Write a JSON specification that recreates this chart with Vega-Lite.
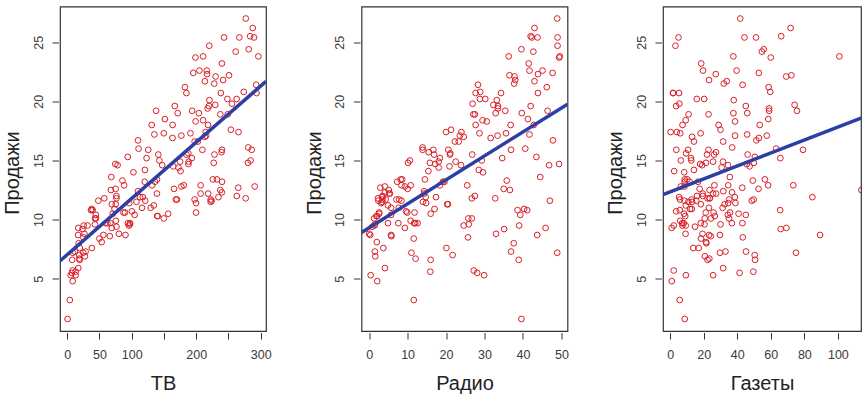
{
"$schema": "https://vega.github.io/schema/vega-lite/v6.json",
"padding": {"left": 1, "top": 5.5, "right": 0, "bottom": 0},
"background": "white",
"config": {
  "view": {"stroke": "#333333", "strokeWidth": 1.2},
  "axis": {"grid": false, "domain": false, "tickColor": "#333333", "tickSize": 6.5, "offset": 1.5, "tickWidth": 1,
    "labelOverlap": false, "labelFlush": false,
    "labelFont": "Liberation Sans", "labelFontSize": 12.5, "labelColor": "#3a3a3a",
    "titleFont": "Liberation Sans", "titleFontSize": 20, "titleFontWeight": "normal", "titleColor": "#222222"},
  "axisX": {"labelPadding": 9, "titleY": 51, "titleBaseline": "middle"},
  "axisY": {"labelAngle": -90, "labelAlign": "center", "labelBaseline": "middle", "labelPadding": 14,
    "titleX": -46, "titleY": 166, "titleAngle": -90, "titleAlign": "center", "titleBaseline": "middle"}
},
"datasets": {"adv": [
{"TV":230.1,"radio":37.8,"newspaper":69.2,"sales":22.1},
{"TV":44.5,"radio":39.3,"newspaper":45.1,"sales":10.4},
{"TV":17.2,"radio":45.9,"newspaper":69.3,"sales":9.3},
{"TV":151.5,"radio":41.3,"newspaper":58.5,"sales":18.5},
{"TV":180.8,"radio":10.8,"newspaper":58.4,"sales":12.9},
{"TV":8.7,"radio":48.9,"newspaper":75,"sales":7.2},
{"TV":57.5,"radio":32.8,"newspaper":23.5,"sales":11.8},
{"TV":120.2,"radio":19.6,"newspaper":11.6,"sales":13.2},
{"TV":8.6,"radio":2.1,"newspaper":1,"sales":4.8},
{"TV":199.8,"radio":2.6,"newspaper":21.2,"sales":10.6},
{"TV":66.1,"radio":5.8,"newspaper":24.2,"sales":8.6},
{"TV":214.7,"radio":24,"newspaper":4,"sales":17.4},
{"TV":23.8,"radio":35.1,"newspaper":65.9,"sales":9.2},
{"TV":97.5,"radio":7.6,"newspaper":7.2,"sales":9.7},
{"TV":204.1,"radio":32.9,"newspaper":46,"sales":19},
{"TV":195.4,"radio":47.7,"newspaper":52.9,"sales":22.4},
{"TV":67.8,"radio":36.6,"newspaper":114,"sales":12.5},
{"TV":281.4,"radio":39.6,"newspaper":55.8,"sales":24.4},
{"TV":69.2,"radio":20.5,"newspaper":18.3,"sales":11.3},
{"TV":147.3,"radio":23.9,"newspaper":19.1,"sales":14.6},
{"TV":218.4,"radio":27.7,"newspaper":53.4,"sales":18},
{"TV":237.4,"radio":5.1,"newspaper":23.5,"sales":12.5},
{"TV":13.2,"radio":15.9,"newspaper":49.6,"sales":5.6},
{"TV":228.3,"radio":16.9,"newspaper":26.2,"sales":15.5},
{"TV":62.3,"radio":12.6,"newspaper":18.3,"sales":9.7},
{"TV":262.9,"radio":3.5,"newspaper":19.5,"sales":12},
{"TV":142.9,"radio":29.3,"newspaper":12.6,"sales":15},
{"TV":240.1,"radio":16.7,"newspaper":22.9,"sales":15.9},
{"TV":248.8,"radio":27.1,"newspaper":22.9,"sales":18.9},
{"TV":70.6,"radio":16,"newspaper":40.8,"sales":10.5},
{"TV":292.9,"radio":28.3,"newspaper":43.2,"sales":21.4},
{"TV":112.9,"radio":17.4,"newspaper":38.6,"sales":11.9},
{"TV":97.2,"radio":1.5,"newspaper":30,"sales":9.6},
{"TV":265.6,"radio":20,"newspaper":0.3,"sales":17.4},
{"TV":95.7,"radio":1.4,"newspaper":7.4,"sales":9.5},
{"TV":290.7,"radio":4.1,"newspaper":8.5,"sales":12.8},
{"TV":266.9,"radio":43.8,"newspaper":5,"sales":25.4},
{"TV":74.7,"radio":49.4,"newspaper":45.7,"sales":14.7},
{"TV":43.1,"radio":26.7,"newspaper":35.1,"sales":10.1},
{"TV":228,"radio":37.7,"newspaper":32,"sales":21.5},
{"TV":202.5,"radio":22.3,"newspaper":31.6,"sales":16.6},
{"TV":177,"radio":33.4,"newspaper":38.7,"sales":17.1},
{"TV":293.6,"radio":27.7,"newspaper":1.8,"sales":20.7},
{"TV":206.9,"radio":8.4,"newspaper":26.4,"sales":12.9},
{"TV":25.1,"radio":25.7,"newspaper":43.3,"sales":8.5},
{"TV":175.1,"radio":22.5,"newspaper":31.5,"sales":14.9},
{"TV":89.7,"radio":9.9,"newspaper":35.7,"sales":10.6},
{"TV":239.9,"radio":41.5,"newspaper":18.5,"sales":23.2},
{"TV":227.2,"radio":15.8,"newspaper":49.9,"sales":14.8},
{"TV":66.9,"radio":11.7,"newspaper":36.8,"sales":9.7},
{"TV":199.8,"radio":3.1,"newspaper":34.6,"sales":11.4},
{"TV":100.4,"radio":9.6,"newspaper":3.6,"sales":10.7},
{"TV":216.4,"radio":41.7,"newspaper":39.6,"sales":22.6},
{"TV":182.6,"radio":46.2,"newspaper":58.7,"sales":21.2},
{"TV":262.7,"radio":28.8,"newspaper":15.9,"sales":20.2},
{"TV":198.9,"radio":49.4,"newspaper":60,"sales":23.7},
{"TV":7.3,"radio":28.1,"newspaper":41.4,"sales":5.5},
{"TV":136.2,"radio":19.2,"newspaper":16.6,"sales":13.2},
{"TV":210.8,"radio":49.6,"newspaper":37.7,"sales":23.8},
{"TV":210.7,"radio":29.5,"newspaper":9.3,"sales":18.4},
{"TV":53.5,"radio":2,"newspaper":21.4,"sales":8.1},
{"TV":261.3,"radio":42.7,"newspaper":54.7,"sales":24.2},
{"TV":239.3,"radio":15.5,"newspaper":27.3,"sales":15.7},
{"TV":102.7,"radio":29.6,"newspaper":8.4,"sales":14},
{"TV":131.1,"radio":42.8,"newspaper":28.9,"sales":18},
{"TV":69,"radio":9.3,"newspaper":0.9,"sales":9.3},
{"TV":31.5,"radio":24.6,"newspaper":2.2,"sales":9.5},
{"TV":139.3,"radio":14.5,"newspaper":10.2,"sales":13.4},
{"TV":237.4,"radio":27.5,"newspaper":11,"sales":18.9},
{"TV":216.8,"radio":43.9,"newspaper":27.2,"sales":22.3},
{"TV":199.1,"radio":30.6,"newspaper":38.7,"sales":18.3},
{"TV":109.8,"radio":14.3,"newspaper":31.7,"sales":12.4},
{"TV":26.8,"radio":33,"newspaper":19.3,"sales":8.8},
{"TV":129.4,"radio":5.7,"newspaper":31.3,"sales":11},
{"TV":213.4,"radio":24.6,"newspaper":13.1,"sales":17},
{"TV":16.9,"radio":43.7,"newspaper":89.4,"sales":8.7},
{"TV":27.5,"radio":1.6,"newspaper":20.7,"sales":6.9},
{"TV":120.5,"radio":28.5,"newspaper":14.2,"sales":14.2},
{"TV":5.4,"radio":29.9,"newspaper":9.4,"sales":5.3},
{"TV":116,"radio":7.7,"newspaper":23.1,"sales":11},
{"TV":76.4,"radio":26.7,"newspaper":22.3,"sales":11.8},
{"TV":239.8,"radio":4.1,"newspaper":36.9,"sales":12.3},
{"TV":75.3,"radio":20.3,"newspaper":32.5,"sales":11.3},
{"TV":68.4,"radio":44.5,"newspaper":35.6,"sales":13.6},
{"TV":213.5,"radio":43,"newspaper":33.8,"sales":21.7},
{"TV":193.2,"radio":18.4,"newspaper":65.7,"sales":15.2},
{"TV":76.3,"radio":27.5,"newspaper":16,"sales":12},
{"TV":110.7,"radio":40.6,"newspaper":63.2,"sales":16},
{"TV":88.3,"radio":25.5,"newspaper":73.4,"sales":12.9},
{"TV":109.8,"radio":47.8,"newspaper":51.4,"sales":16.7},
{"TV":134.3,"radio":4.9,"newspaper":9.3,"sales":11.2},
{"TV":28.6,"radio":1.5,"newspaper":33,"sales":7.3},
{"TV":217.7,"radio":33.5,"newspaper":59,"sales":19.4},
{"TV":250.9,"radio":36.5,"newspaper":72.3,"sales":22.2},
{"TV":107.4,"radio":14,"newspaper":10.9,"sales":11.5},
{"TV":163.3,"radio":31.6,"newspaper":52.9,"sales":16.9},
{"TV":197.6,"radio":3.5,"newspaper":5.9,"sales":11.7},
{"TV":184.9,"radio":21,"newspaper":22,"sales":15.5},
{"TV":289.7,"radio":42.3,"newspaper":51.2,"sales":25.4},
{"TV":135.2,"radio":41.7,"newspaper":45.9,"sales":17.2},
{"TV":222.4,"radio":4.3,"newspaper":49.8,"sales":11.7},
{"TV":296.4,"radio":36.3,"newspaper":100.9,"sales":23.8},
{"TV":280.2,"radio":10.1,"newspaper":21.4,"sales":14.8},
{"TV":187.9,"radio":17.2,"newspaper":17.9,"sales":14.7},
{"TV":238.2,"radio":34.3,"newspaper":5.3,"sales":20.7},
{"TV":137.9,"radio":46.4,"newspaper":59,"sales":19.2},
{"TV":25,"radio":11,"newspaper":29.7,"sales":7.2},
{"TV":90.4,"radio":0.3,"newspaper":23.2,"sales":8.7},
{"TV":13.1,"radio":0.4,"newspaper":25.6,"sales":5.3},
{"TV":255.4,"radio":26.9,"newspaper":5.5,"sales":19.8},
{"TV":225.8,"radio":8.2,"newspaper":56.5,"sales":13.4},
{"TV":241.7,"radio":38,"newspaper":23.2,"sales":21.8},
{"TV":175.7,"radio":15.4,"newspaper":2.4,"sales":14.1},
{"TV":209.6,"radio":20.6,"newspaper":10.7,"sales":15.9},
{"TV":78.2,"radio":46.8,"newspaper":34.5,"sales":14.6},
{"TV":75.1,"radio":35,"newspaper":52.7,"sales":12.6},
{"TV":139.2,"radio":14.3,"newspaper":25.6,"sales":12.2},
{"TV":76.4,"radio":0.8,"newspaper":14.8,"sales":9.4},
{"TV":125.7,"radio":36.9,"newspaper":79.2,"sales":15.9},
{"TV":19.4,"radio":16,"newspaper":22.3,"sales":6.6},
{"TV":141.3,"radio":26.8,"newspaper":46.2,"sales":15.5},
{"TV":18.8,"radio":21.7,"newspaper":50.4,"sales":7},
{"TV":224,"radio":2.4,"newspaper":15.6,"sales":11.6},
{"TV":123.1,"radio":34.6,"newspaper":12.4,"sales":15.2},
{"TV":229.5,"radio":32.3,"newspaper":74.2,"sales":19.7},
{"TV":87.2,"radio":11.8,"newspaper":25.9,"sales":10.6},
{"TV":7.8,"radio":38.9,"newspaper":50.6,"sales":6.6},
{"TV":80.2,"radio":0,"newspaper":9.2,"sales":8.8},
{"TV":220.3,"radio":49,"newspaper":3.2,"sales":24.7},
{"TV":59.6,"radio":12,"newspaper":43.1,"sales":9.7},
{"TV":0.7,"radio":39.6,"newspaper":8.7,"sales":1.6},
{"TV":265.2,"radio":2.9,"newspaper":43,"sales":12.7},
{"TV":8.4,"radio":27.2,"newspaper":2.1,"sales":5.7},
{"TV":219.8,"radio":33.5,"newspaper":45.1,"sales":19.6},
{"TV":36.9,"radio":38.6,"newspaper":65.6,"sales":10.8},
{"TV":48.3,"radio":47,"newspaper":8.5,"sales":11.6},
{"TV":25.6,"radio":39,"newspaper":9.3,"sales":9.5},
{"TV":273.7,"radio":28.9,"newspaper":59.7,"sales":20.8},
{"TV":43,"radio":25.9,"newspaper":20.5,"sales":9.6},
{"TV":184.9,"radio":43.9,"newspaper":1.7,"sales":20.7},
{"TV":73.4,"radio":17,"newspaper":12.9,"sales":10.9},
{"TV":193.7,"radio":35.4,"newspaper":75.6,"sales":19.2},
{"TV":220.5,"radio":33.2,"newspaper":37.9,"sales":20.1},
{"TV":104.6,"radio":5.7,"newspaper":34.4,"sales":10.4},
{"TV":96.2,"radio":14.8,"newspaper":38.9,"sales":11.4},
{"TV":140.3,"radio":1.9,"newspaper":9,"sales":10.3},
{"TV":240.1,"radio":7.3,"newspaper":8.7,"sales":13.2},
{"TV":243.2,"radio":49,"newspaper":44.3,"sales":25.4},
{"TV":38,"radio":40.3,"newspaper":11.9,"sales":10.9},
{"TV":44.7,"radio":25.8,"newspaper":20.6,"sales":10.1},
{"TV":280.7,"radio":13.9,"newspaper":37,"sales":16.1},
{"TV":121,"radio":8.4,"newspaper":48.7,"sales":11.6},
{"TV":197.6,"radio":23.3,"newspaper":14.2,"sales":16.6},
{"TV":171.3,"radio":39.7,"newspaper":37.7,"sales":19},
{"TV":187.8,"radio":21.1,"newspaper":9.5,"sales":15.6},
{"TV":4.1,"radio":11.6,"newspaper":5.7,"sales":3.2},
{"TV":93.9,"radio":43.5,"newspaper":50.5,"sales":15.3},
{"TV":149.8,"radio":1.3,"newspaper":24.3,"sales":10.1},
{"TV":11.7,"radio":36.9,"newspaper":45.2,"sales":7.3},
{"TV":131.7,"radio":18.4,"newspaper":34.6,"sales":12.9},
{"TV":172.5,"radio":18.1,"newspaper":30.7,"sales":14.4},
{"TV":85.7,"radio":35.8,"newspaper":49.3,"sales":13.3},
{"TV":188.4,"radio":18.1,"newspaper":25.6,"sales":14.9},
{"TV":163.5,"radio":36.8,"newspaper":7.4,"sales":18},
{"TV":117.2,"radio":14.7,"newspaper":5.4,"sales":11.9},
{"TV":234.5,"radio":3.4,"newspaper":84.8,"sales":11.9},
{"TV":17.9,"radio":37.6,"newspaper":21.6,"sales":8},
{"TV":206.8,"radio":5.2,"newspaper":19.4,"sales":12.2},
{"TV":215.4,"radio":23.6,"newspaper":57.6,"sales":17.1},
{"TV":284.3,"radio":10.6,"newspaper":6.4,"sales":15},
{"TV":50,"radio":11.6,"newspaper":18.4,"sales":8.4},
{"TV":164.5,"radio":20.9,"newspaper":47.4,"sales":14.5},
{"TV":19.6,"radio":20.1,"newspaper":17,"sales":7.6},
{"TV":168.4,"radio":7.1,"newspaper":12.8,"sales":11.7},
{"TV":222.4,"radio":3.4,"newspaper":13.1,"sales":11.5},
{"TV":276.9,"radio":48.9,"newspaper":41.8,"sales":27},
{"TV":248.4,"radio":30.2,"newspaper":20.3,"sales":20.2},
{"TV":170.2,"radio":7.8,"newspaper":35.2,"sales":11.7},
{"TV":276.7,"radio":2.3,"newspaper":23.7,"sales":11.8},
{"TV":165.6,"radio":10,"newspaper":17.6,"sales":12.6},
{"TV":156.6,"radio":2.6,"newspaper":8.3,"sales":10.5},
{"TV":218.5,"radio":5.4,"newspaper":27.4,"sales":12.2},
{"TV":56.2,"radio":5.7,"newspaper":29.7,"sales":8.7},
{"TV":287.6,"radio":43,"newspaper":71.8,"sales":26.2},
{"TV":253.8,"radio":21.3,"newspaper":30,"sales":17.6},
{"TV":205,"radio":45.1,"newspaper":19.6,"sales":22.6},
{"TV":139.5,"radio":2.1,"newspaper":26.6,"sales":10.3},
{"TV":191.1,"radio":28.7,"newspaper":18.2,"sales":17.3},
{"TV":286,"radio":13.9,"newspaper":3.7,"sales":15.9},
{"TV":18.7,"radio":12.1,"newspaper":23.4,"sales":6.7},
{"TV":39.5,"radio":41.1,"newspaper":5.8,"sales":10.8},
{"TV":75.5,"radio":10.8,"newspaper":6,"sales":9.9},
{"TV":17.2,"radio":4.1,"newspaper":31.6,"sales":5.9},
{"TV":166.8,"radio":42,"newspaper":3.6,"sales":19.6},
{"TV":149.7,"radio":35.6,"newspaper":6,"sales":17.3},
{"TV":38.2,"radio":3.7,"newspaper":13.8,"sales":7.6},
{"TV":94.2,"radio":4.9,"newspaper":8.1,"sales":9.7},
{"TV":177,"radio":9.3,"newspaper":6.4,"sales":12.8},
{"TV":283.6,"radio":42,"newspaper":66.2,"sales":25.5},
{"TV":232.1,"radio":8.6,"newspaper":8.7,"sales":13.4}
]},
"data": {"name": "adv"},
"spacing": 95.5,
"bounds": "flush",
"hconcat": [
 {"width": 206, "height": 324.5,
  "encoding": {
   "x": {"field": "TV", "type": "quantitative", "scale": {"domain": [-11.09, 308.2], "nice": false, "zero": false},
     "axis": {"values": [0, 50, 100, 150, 200, 250, 300], "labelOverlap": false, "labelExpr": "datum.value == 150 || datum.value == 250 ? '' : datum.label", "title": "ТВ"}},
   "y": {"field": "sales", "type": "quantitative", "scale": {"domain": [0.584, 28.016], "nice": false, "zero": false},
     "axis": {"values": [5, 10, 15, 20, 25], "labelOverlap": false, "title": "Продажи"}}},
  "layer": [
   {"mark": {"type": "point", "shape": "circle", "filled": false, "color": "#d91f27", "size": 33, "strokeWidth": 1, "opacity": 1}},
   {"transform": [{"regression": "sales", "on": "TV", "extent": [-11.09, 308.2]}],
    "mark": {"type": "line", "color": "#2c3fa5", "strokeWidth": 3.5, "clip": true}}
  ]},
 {"width": 206, "height": 324.5,
  "encoding": {
   "x": {"field": "radio", "type": "quantitative", "scale": {"domain": [-1.984, 51.584], "nice": false, "zero": false},
     "axis": {"values": [0, 10, 20, 30, 40, 50], "labelOverlap": false, "title": "Радио"}},
   "y": {"field": "sales", "type": "quantitative", "scale": {"domain": [0.584, 28.016], "nice": false, "zero": false},
     "axis": {"values": [5, 10, 15, 20, 25], "labelOverlap": false, "title": "Продажи"}}},
  "layer": [
   {"mark": {"type": "point", "shape": "circle", "filled": false, "color": "#d91f27", "size": 33, "strokeWidth": 1, "opacity": 1}},
   {"transform": [{"regression": "sales", "on": "radio", "extent": [-1.984, 51.584]}],
    "mark": {"type": "line", "color": "#2c3fa5", "strokeWidth": 3.5, "clip": true}}
  ]},
 {"width": 198, "height": 324.5,
  "encoding": {
   "x": {"field": "newspaper", "type": "quantitative", "scale": {"domain": [-4.248, 113.78], "nice": false, "zero": false},
     "axis": {"values": [0, 20, 40, 60, 80, 100], "labelOverlap": false, "title": "Газеты"}},
   "y": {"field": "sales", "type": "quantitative", "scale": {"domain": [0.584, 28.016], "nice": false, "zero": false},
     "axis": {"values": [5, 10, 15, 20, 25], "labelOverlap": false, "title": "Продажи"}}},
  "layer": [
   {"mark": {"type": "point", "shape": "circle", "filled": false, "color": "#d91f27", "size": 33, "strokeWidth": 1, "opacity": 1, "clip": true}},
   {"transform": [{"regression": "sales", "on": "newspaper", "extent": [-4.248, 118.548]}],
    "mark": {"type": "line", "color": "#2c3fa5", "strokeWidth": 3.5, "clip": true}}
  ]}
]
}
